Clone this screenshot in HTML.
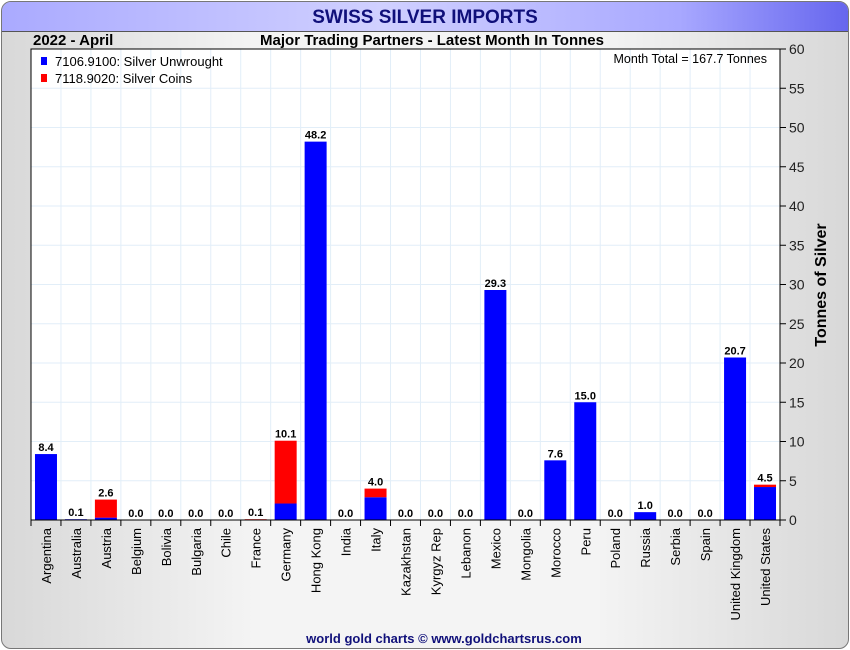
<!DOCTYPE html>
<html><head><meta charset="utf-8"><style>
body{margin:0;width:850px;height:650px;overflow:hidden;font-family:"Liberation Sans",sans-serif;}
#frame{position:absolute;left:1px;top:1px;width:846px;height:646px;border:1px solid #777;border-radius:10px;background:linear-gradient(90deg,#d8d8d8,#f4f4f4 30%,#f4f4f4 70%,#d8d8d8);overflow:hidden;}
#title{position:absolute;left:0;top:0;width:846px;height:29px;background:linear-gradient(90deg,#aaaaff,#d0d0ff 45%,#a8a8ff 80%,#6666ee);border-bottom:1px solid #555;text-align:center;font:bold 19px "Liberation Sans",sans-serif;color:#10107a;line-height:31px;}
</style></head><body>
<div id="frame">
<div id="title">SWISS SILVER IMPORTS</div>
</div>
<svg id="c" width="850" height="650" style="position:absolute;left:0;top:0" font-family="Liberation Sans, sans-serif"></svg>
<script>
const categories=["Argentina","Australia","Austria","Belgium","Bolivia","Bulgaria","Chile","France","Germany","Hong Kong","India","Italy","Kazakhstan","Kyrgyz Rep","Lebanon","Mexico","Mongolia","Morocco","Peru","Poland","Russia","Serbia","Spain","United Kingdom","United States"].filter(c=>c!=="Bolivia"||true);
const unwrought=[8.4,0.1,0.3,0,0,0,0,0,2.1,48.2,0,2.9,0,0,0,29.3,0,7.6,15.0,0,1.0,0,0,20.7,4.2];
const coins=[0,0,2.3,0,0,0,0,0.1,8.0,0,0,1.1,0,0,0,0,0,0,0,0,0,0,0,0,0.3];
const totals=["8.4","0.1","2.6","0.0","0.0","0.0","0.0","0.1","10.1","48.2","0.0","4.0","0.0","0.0","0.0","29.3","0.0","7.6","15.0","0.0","1.0","0.0","0.0","20.7","4.5"];
const yTicks=[0,5,10,15,20,25,30,35,40,45,50,55,60];
</script>
<script>
const svg=document.getElementById('c');const NS='http://www.w3.org/2000/svg';
const L=31,R=780,T=49,B=520,YMAX=60;
const n=categories.length, cw=(R-L)/n;
const y=v=>B-(v/YMAX)*(B-T);
const xc=i=>L+cw*(i+0.5);
function mk(tag,a,p){const e=document.createElementNS(NS,tag);for(const k in a)e.setAttribute(k,a[k]);(p||svg).appendChild(e);return e;}
const bg=mk('rect',{x:L,y:T,width:R-L,height:B-T,fill:'#fff'});


yTicks.forEach(v=>{
 const g=mk('line',{x1:L,x2:R,y1:y(v),y2:y(v),stroke:'#e2eef8'});
 
 
 const t=mk('line',{x1:R,x2:R+6,y1:y(v),y2:y(v),stroke:'#000'});
 
 
 const l=mk('text',{x:R+9,y:y(v)+5,'font-size':14,fill:'#222'});l.textContent=v;
 
 
});
for(let i=0;i<=n;i++){
 const x=L+cw*i;
 const g=mk('line',{x1:x,x2:x,y1:T,y2:B,stroke:'#e2eef8'});
 
 
 const t=mk('line',{x1:x,x2:x,y1:B,y2:B+6,stroke:'#000'});
 
 
}
const bw=22;
categories.forEach((c,i)=>{
 const u=unwrought[i],k=coins[i];
 if(u>0){const r=mk('rect',{x:xc(i)-bw/2,y:y(u),width:bw,height:B-y(u),fill:'#0000ff'});
  
  }
 if(k>0){const r=mk('rect',{x:xc(i)-bw/2,y:y(u+k),width:bw,height:y(u)-y(u+k),fill:'#ff0000'});
  
  }
 const vl=mk('text',{x:xc(i),y:y(u+k)-3,'font-size':11,'font-weight':'bold','text-anchor':'middle',fill:'#000'});vl.textContent=totals[i];
 
 
 const xl=mk('text',{x:0,y:0,'font-size':13,'text-anchor':'end',fill:'#000',transform:`translate(${xc(i)+5},${B+8}) rotate(-90)`});xl.textContent=c;
 
 
});
const fr=mk('rect',{x:L,y:T,width:R-L,height:B-T,fill:'none',stroke:'#000'});


function txt(s,a,name){const e=mk('text',a);e.textContent=s;return e;}
txt('2022 - April',{x:33,y:45,'font-size':15,'font-weight':'bold'},'date-label');
txt('Major Trading Partners - Latest Month In Tonnes',{x:432,y:45,'font-size':15,'font-weight':'bold','text-anchor':'middle'},'subtitle');
txt('Month Total = 167.7 Tonnes',{x:767,y:63,'font-size':12.5,'text-anchor':'end'},'month-total');
const s1=mk('rect',{x:41,y:57,width:6,height:8,fill:'#0000ff'});
txt('7106.9100: Silver Unwrought',{x:55,y:66,'font-size':13},'legend-entry-unwrought');
const s2=mk('rect',{x:41,y:74,width:6,height:8,fill:'#ff0000'});
txt('7118.9020: Silver Coins',{x:55,y:83,'font-size':13},'legend-entry-coins');
txt('Tonnes of Silver',{x:0,y:0,'font-size':16,'font-weight':'bold','text-anchor':'middle',transform:'translate(826,285) rotate(-90)'},'y-axis-title');
txt('world gold charts © www.goldchartsrus.com',{x:444,y:643,'font-size':13,'font-weight':'bold','text-anchor':'middle',fill:'#10107a'},'footer-credit');
</script>
</body></html>
